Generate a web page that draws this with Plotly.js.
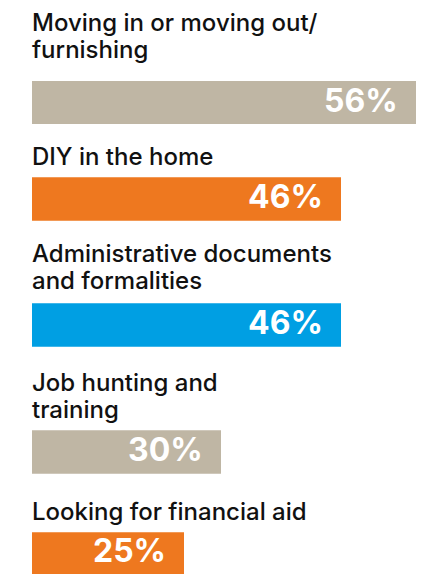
<!DOCTYPE html>
<html>
<head>
<meta charset="utf-8">
<script src="https://cdn.plot.ly/plotly-3.0.1.min.js"></script>
<style>
  html, body { margin: 0; padding: 0; background: #ffffff; }
  #chart { width: 430px; height: 574px; }
</style>
</head>
<body>
<div id="chart"></div>
<script>
// ---- data ----
const categories = [
  "Moving in or moving out/<br>furnishing",
  "DIY in the home",
  "Administrative documents<br>and formalities",
  "Job hunting and<br>training",
  "Looking for financial aid"
];
const values = [56, 46, 46, 30, 25];
const valueLabels = ["56%", "46%", "46%", "30%", "25%"];

// ---- styles / layout positions (pixels) ----
const barColors = ["#BFB6A4", "#EE781F", "#009FE3", "#BFB6A4", "#EE781F"];
const W = 430, H = 574;
const barTop = [81, 177.3, 303.3, 430.3, 532.3];
const barH = 43.4;
const labelBaseline = [31, 165, 261.7, 391, 520];
const lineGap = 27;
const labelFont = { family: "Inter", size: 24, color: "#111111", weight: 500 };
const valueFont = { family: "Inter", size: 32, color: "#ffffff", weight: 700 };

const traces = [];
const annotations = [];
const layout = {
  width: W, height: H,
  margin: { l: 32, r: 0, t: 0, b: 0, pad: 0 },
  paper_bgcolor: "#ffffff",
  plot_bgcolor: "rgba(0,0,0,0)",
  showlegend: false,
  bargap: 0,
  xaxis: { range: [4.77, 57.9], visible: false, fixedrange: true },
  annotations: annotations
};

categories.forEach((cat, i) => {
  const ax = i === 0 ? "y" : "y" + (i + 1);
  const axKey = i === 0 ? "yaxis" : "yaxis" + (i + 1);
  const bottomPx = Math.min(barTop[i] + barH, H);
  layout[axKey] = {
    domain: [1 - bottomPx / H, 1 - barTop[i] / H],
    range: [-0.5, 0.5],
    visible: false,
    fixedrange: true
  };
  traces.push({
    type: "bar",
    orientation: "h",
    x: [values[i]],
    y: [0],
    xaxis: "x",
    yaxis: ax,
    marker: { color: barColors[i], line: { width: 0 } },
    hoverinfo: "skip",
    width: 1
  });
  annotations.push({
    xref: "x", yref: ax,
    x: values[i], y: 0,
    xanchor: "right", yanchor: "middle",
    xshift: -17, yshift: 2.5,
    text: valueLabels[i],
    showarrow: false,
    borderpad: 0,
    font: valueFont
  });
  cat.split("<br>").forEach((line, j) => {
    const capCenter = labelBaseline[i] + j * lineGap - 8.7;
    annotations.push({
      xref: "paper", yref: "paper",
      x: 0, y: 1 - capCenter / H,
      xanchor: "left", yanchor: "middle",
      xshift: -1,
      text: line,
      showarrow: false,
      borderpad: 0,
      font: labelFont
    });
  });
});

Plotly.newPlot("chart", traces, layout, { displayModeBar: false, staticPlot: true });
</script>
</body>
</html>
